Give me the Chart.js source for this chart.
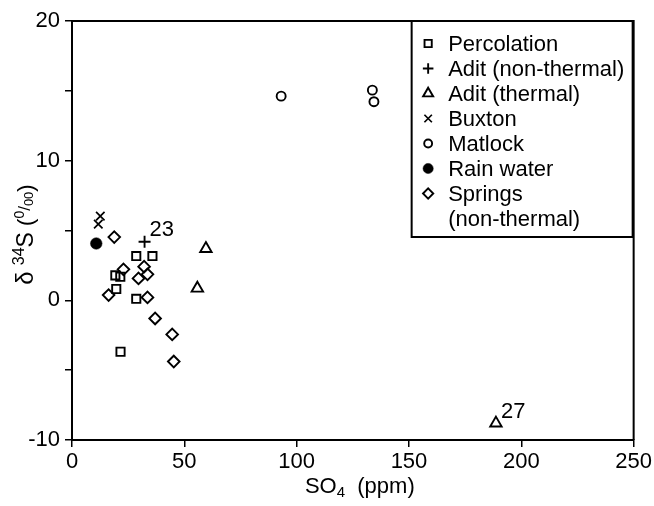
<!DOCTYPE html>
<html>
<head>
<meta charset="utf-8">
<script src="https://cdn.jsdelivr.net/npm/chart.js@4.4.1/dist/chart.umd.min.js"></script>
<style>
  html, body { margin: 0; padding: 0; background: #fff; }
  #wrap { width: 654px; height: 506px; }
</style>
</head>
<body>
<div id="wrap"><canvas id="c" width="654" height="506"></canvas></div>
<script>
// ---- data ----
const percolationX = [28.6, 35.8, 19.3, 21.5, 19.7, 28.6, 21.6];
const percolationY = [3.17, 3.17, 1.79, 1.69, 0.81, 0.11, -3.68];
const aditNonThermalX = [32.3];
const aditNonThermalY = [4.19];
const aditThermalX = [59.6, 55.8, 188.7];
const aditThermalY = [3.7, 0.86, -8.8];
const buxtonX = [12.6, 11.7];
const buxtonY = [6.03, 5.45];
const matlockX = [93.1, 133.7, 134.4];
const matlockY = [14.62, 15.05, 14.22];
const rainX = [10.8];
const rainY = [4.07];
const springsX = [18.8, 22.9, 32.1, 33.6, 29.6, 16.3, 33.6, 37.0, 44.6, 45.3];
const springsY = [4.53, 2.22, 2.41, 1.86, 1.57, 0.38, 0.21, -1.3, -2.44, -4.38];
const seriesLabels = ['Percolation', 'Adit (non-thermal)', 'Adit (thermal)', 'Buxton', 'Matlock', 'Rain water', ['Springs', '(non-thermal)']];
const xTickValues = [0, 50, 100, 150, 200, 250];
const yTickLabelValues = [-10, 0, 10, 20];
const pointNotes = [ { text: '23', series: 1, index: 0 }, { text: '27', series: 2, index: 2 } ];
// axis titles as runs of [text, size, baseline shift]
const yTitleRuns = [['δ', 24, 0], [' ', 22, 0], ['34', 16, -9], ['S', 23, 0], [' (', 22, 0], ['0', 14, -9], ['/', 17, -3], ['00', 13, 0], [')', 22, 0]];
const xTitleRuns = [['SO', 22, 0], ['4', 15, 4], ['  (ppm)', 22, 0]];

const FONT = '"Liberation Sans", Arial, Helvetica, sans-serif';
const pts = (xs, ys) => xs.map((x, i) => ({ x: x, y: ys[i] }));

const styles = [
  { pointStyle: 'rect', radius: 5.8, fill: 'rgba(0,0,0,0)', bw: 1.9 },
  { pointStyle: 'cross', radius: 6, fill: 'rgba(0,0,0,0)', bw: 1.9 },
  { pointStyle: 'triangle', radius: 6.6, fill: 'rgba(0,0,0,0)', bw: 1.9 },
  { pointStyle: 'crossRot', radius: 6, fill: 'rgba(0,0,0,0)', bw: 1.7 },
  { pointStyle: 'circle', radius: 4.5, fill: 'rgba(0,0,0,0)', bw: 1.9 },
  { pointStyle: 'circle', radius: 5.8, fill: '#000', bw: 0.5 },
  { pointStyle: 'rectRot', radius: 5.8, fill: 'rgba(0,0,0,0)', bw: 1.9 }
];
const seriesData = [
  pts(percolationX, percolationY),
  pts(aditNonThermalX, aditNonThermalY),
  pts(aditThermalX, aditThermalY),
  pts(buxtonX, buxtonY),
  pts(matlockX, matlockY),
  pts(rainX, rainY),
  pts(springsX, springsY)
];
const datasets = seriesData.map((d, i) => ({
  label: seriesLabels[i],
  data: d,
  showLine: false,
  pointStyle: styles[i].pointStyle,
  pointRadius: styles[i].radius,
  pointHoverRadius: styles[i].radius,
  pointBorderWidth: styles[i].bw,
  pointBorderColor: '#000',
  pointBackgroundColor: styles[i].fill,
  borderColor: '#000',
  backgroundColor: styles[i].fill
}));

function runsWidth(ctx, runs) {
  let w = 0;
  runs.forEach(r => { ctx.font = r[1] + 'px ' + FONT; w += ctx.measureText(r[0]).width; });
  return w;
}
function drawRuns(ctx, runs, x, y) {
  runs.forEach(r => {
    ctx.font = r[1] + 'px ' + FONT;
    ctx.fillText(r[0], x, y + r[2]);
    x += ctx.measureText(r[0]).width;
  });
}

const framePlugin = {
  id: 'frame',
  afterDraw(chart) {
    const ctx = chart.ctx, a = chart.chartArea;
    ctx.save();
    ctx.strokeStyle = '#000';
    ctx.lineWidth = 2;
    ctx.beginPath();
    ctx.moveTo(a.left, a.top);
    ctx.lineTo(a.right, a.top);
    ctx.lineTo(a.right, a.bottom);
    ctx.stroke();

    ctx.fillStyle = '#000';
    ctx.textAlign = 'left';
    ctx.textBaseline = 'alphabetic';

    // axis titles
    const xw = runsWidth(ctx, xTitleRuns);
    drawRuns(ctx, xTitleRuns, (a.left + a.right) / 2 + 7 - xw / 2, 493);
    const yw = runsWidth(ctx, yTitleRuns);
    ctx.save();
    ctx.translate(33, (a.top + a.bottom) / 2 + 4 + yw / 2);
    ctx.rotate(-Math.PI / 2);
    drawRuns(ctx, yTitleRuns, 0, 0);
    ctx.restore();

    // point annotations
    ctx.font = '22px ' + FONT;
    pointNotes.forEach(n => {
      const el = chart.getDatasetMeta(n.series).data[n.index];
      ctx.fillText(n.text, el.x + 5, el.y - 5.5);
    });

    // legend box
    const L = a.right - 222, T = a.top, W = 221, H = 216;
    ctx.fillStyle = '#fff';
    ctx.fillRect(L, T, W, H);
    ctx.lineWidth = 2;
    ctx.strokeStyle = '#000';
    ctx.strokeRect(L, T, W, H);
    let row = 0;
    const rowH = 25, firstY = T + 22.5;
    chart.data.datasets.forEach((ds, i) => {
      const y = firstY + row * rowH;
      ctx.save();
      ctx.fillStyle = styles[i].fill;
      ctx.strokeStyle = '#000';
      ctx.lineWidth = styles[i].bw;
      Chart.helpers.drawPoint(ctx, {
        pointStyle: styles[i].pointStyle,
        radius: styles[i].radius * 0.88,
        rotation: 0,
        borderWidth: styles[i].bw
      }, L + 16.5, y);
      ctx.restore();
      ctx.fillStyle = '#000';
      ctx.font = '22px ' + FONT;
      ctx.textBaseline = 'middle';
      const lines = Array.isArray(ds.label) ? ds.label : [ds.label];
      lines.forEach((t, k) => {
        ctx.fillText(t, L + 36.5, firstY + (row + k) * rowH + 1);
      });
      row += lines.length;
    });
    ctx.restore();
  }
};

new Chart(document.getElementById('c'), {
  type: 'scatter',
  data: { datasets: datasets },
  options: {
    responsive: false,
    animation: false,
    devicePixelRatio: 1,
    layout: { padding: { left: 0, right: 20, top: 21, bottom: 0 } },
    plugins: { legend: { display: false }, tooltip: { enabled: false } },
    scales: {
      x: {
        type: 'linear',
        min: 0, max: 250,
        afterFit(s) { s.height = 66; },
        afterBuildTicks(s) { s.ticks = xTickValues.map(v => ({ value: v })); },
        ticks: { color: '#000', font: { family: FONT, size: 22 }, padding: 2, maxRotation: 0, autoSkip: false },
        grid: { display: true, drawOnChartArea: false, drawTicks: true, tickLength: 7, color: '#000', lineWidth: 1.5 },
        border: { display: true, color: '#000', width: 2 },
        title: { display: false }
      },
      y: {
        type: 'linear',
        min: -10, max: 20,
        afterFit(s) { s.width = 72; },
        ticks: {
          stepSize: 5,
          color: '#000',
          font: { family: FONT, size: 22 },
          padding: 5,
          autoSkip: false,
          callback: v => (yTickLabelValues.includes(v) ? String(v) : '')
        },
        grid: { display: true, drawOnChartArea: false, drawTicks: true, tickLength: 7, color: '#000', lineWidth: 1.5 },
        border: { display: true, color: '#000', width: 2 },
        title: { display: false }
      }
    }
  },
  plugins: [framePlugin]
});
</script>
</body>
</html>
